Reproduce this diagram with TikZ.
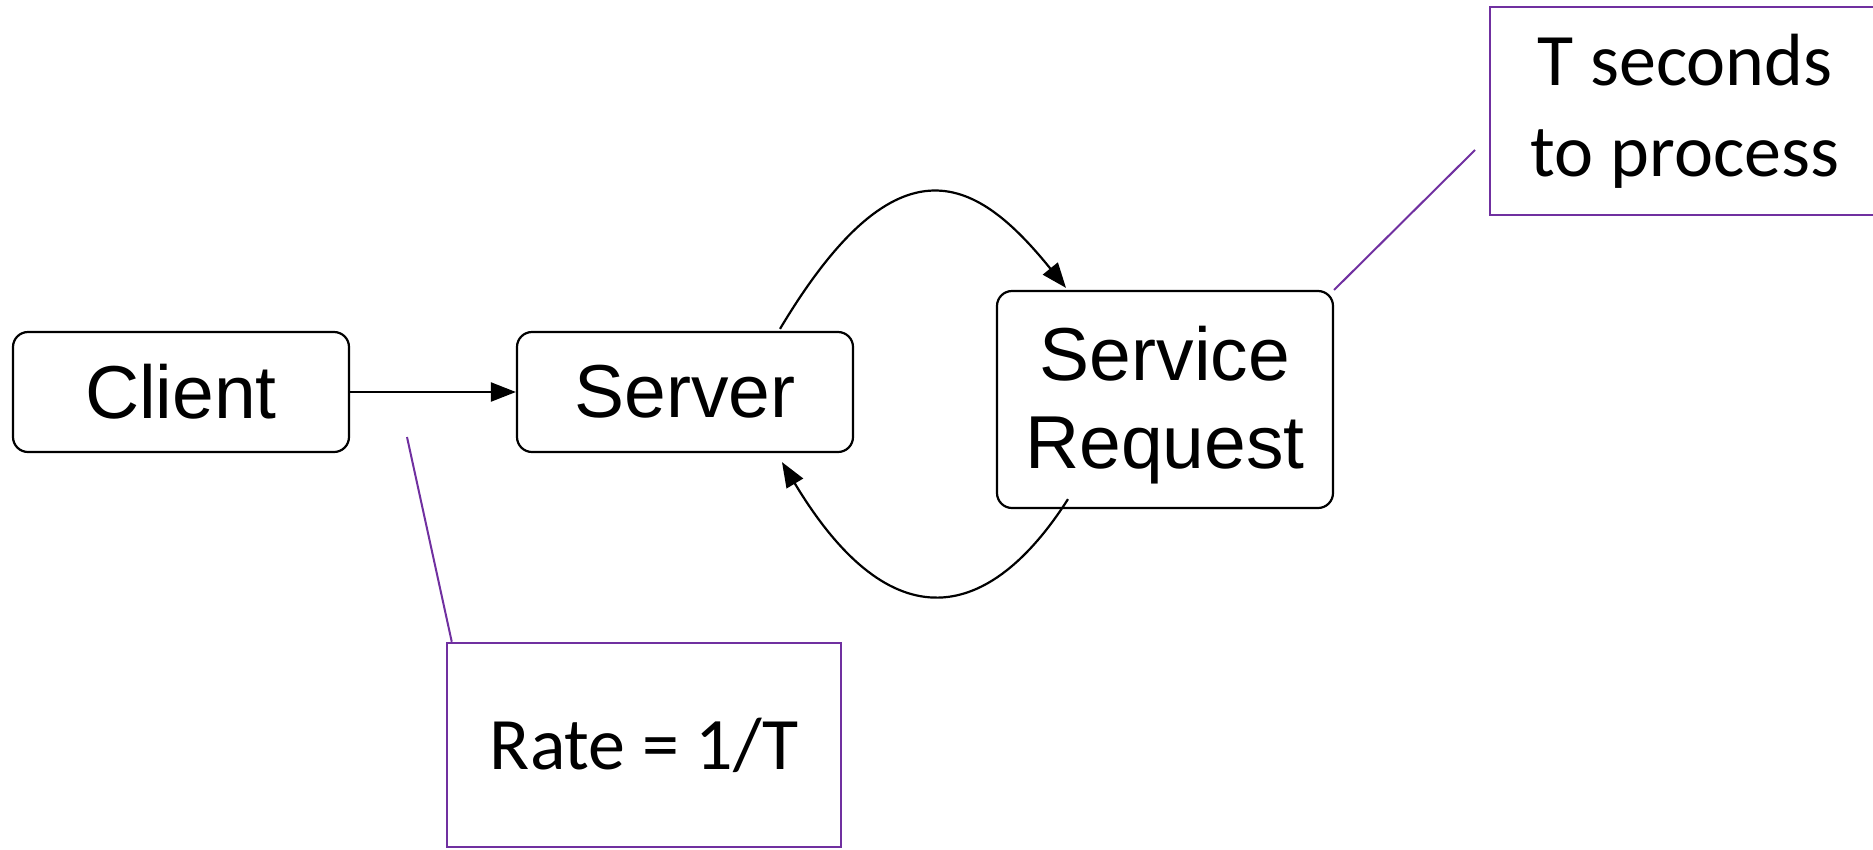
\documentclass[tikz,border=0pt]{standalone}
\usepackage{fontspec}
\setmainfont{Liberation Sans}
\newfontfamily\calloutfont{Carlito}
\usetikzlibrary{arrows.meta}
\definecolor{notepurple}{RGB}{112,48,160}
\begin{document}
\begin{tikzpicture}[x=1pt,y=-1pt,
  procfont/.style={font=\fontsize{75}{88}\selectfont},
  procbox/.style={draw=black,line width=2.2pt,rounded corners=15pt,inner sep=0pt,
    align=center,procfont},
  notebox/.style={draw=notepurple,line width=2.5pt,inner sep=0pt,align=center,
    font=\calloutfont\fontsize{74}{91}\selectfont},
  flow/.style={line width=2.2pt,-{Triangle[length=25pt,width=19pt]}},
  noteline/.style={draw=notepurple,line width=2pt}]
\useasboundingbox (0,0) rectangle (1873,849);

% process boxes
\node[procbox,minimum width=336pt,minimum height=120pt] (client) at (181,392) {Client};
\node[procbox,minimum width=336pt,minimum height=120pt] (server) at (685,392) {Server};
\node[procbox,minimum width=336pt,minimum height=217pt,
  label={[procfont,align=center,inner sep=0pt,yshift=-6pt]center:{Service\\Request}}]
  (sr) at (1165,399.5) {};

% callout boxes
\node[notebox,minimum width=394pt,minimum height=204pt] (rate) at (644,745) {Rate = 1/T};
\node[notebox,minimum width=390pt,minimum height=208pt] (tsec) at (1685,111) {T seconds\\to process};

% request flow
\draw[flow] (client.east) -- (server.west);
\draw[flow] ([xshift=95pt,yshift=2pt]server.north)
  .. controls +(119.5,-200) and +(-87.5,-108) .. ([xshift=-99pt,yshift=2pt]sr.north);
\draw[flow] ([xshift=-97pt,yshift=10pt]sr.south)
  .. controls +(-78,122) and +(110,183) .. ([xshift=97pt,yshift=-9pt]server.south);

% callout leaders
\coordinate (rateend) at (407,437);
\coordinate (tsecend) at (1475,150);
\draw[noteline] (rateend) -- ([xshift=6pt]rate.north west);
\draw[noteline] (sr.north east) -- (tsecend);
\end{tikzpicture}
\end{document}
